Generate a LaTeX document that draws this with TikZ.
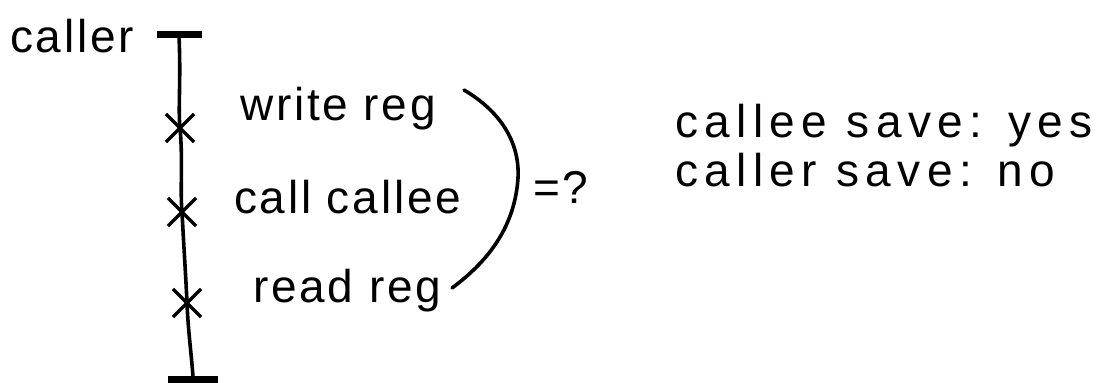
\documentclass[tikz,border=0pt]{standalone}
\usepackage{fontspec}
\setmainfont{Liberation Sans}[LetterSpace=6]
\usetikzlibrary{shapes.misc}
\begin{document}
\begin{tikzpicture}[x=1pt,y=-1pt,
  lbl/.style={font=\fontsize{46}{50}\selectfont, inner sep=0pt},
  wide/.style={font=\fontsize{46}{50}\selectfont\addfontfeature{LetterSpace=14}},
  ink/.style={line width=3.6pt, line cap=round, line join=round},
  xmark/.style={cross out, draw, line width=3.2pt, minimum size=25pt, inner sep=0pt},
  bar/.style={line width=7pt}]
\useasboundingbox (0,0) rectangle (1109,383);
\node[lbl, anchor=base west] (caller) at (10,52) {caller};
\coordinate (topL) at (157,34);
\coordinate (topR) at (202,34);
\coordinate (top) at (179,36);
\coordinate (botL) at (168,379);
\coordinate (botR) at (218,379);
\coordinate (bot) at (193,377);
\draw[bar] (topL) -- (topR);
\draw[bar] (botL) -- (botR);
\node[xmark] (x1) at (180,128) {};
\node[xmark] (x2) at (182,212) {};
\node[xmark] (x3) at (187,303) {};
\draw[ink] (top) .. controls (181,80) and (178,110) .. (x1.center)
  .. controls (183,160) and (180,190) .. (x2.center)
  .. controls (184,250) and (186,280) .. (x3.center)
  .. controls (188,330) and (192,360) .. (bot);
\node[lbl, anchor=base west] (write) at (240,120) {write reg};
\node[lbl, anchor=base west] (call) at (234,213) {call callee};
\node[lbl, anchor=base west] (read) at (253,302) {read reg};
\coordinate (br1) at (464,90);
\coordinate (br2) at (518,178);
\coordinate (br3) at (452,288);
\draw[ink] (br1) .. controls (498,110) and (520,140) .. (br2)
  .. controls (515,225) and (490,260) .. (br3);
\node[lbl, anchor=base west] (eq) at (533,203) {=?};
\node[lbl, wide, anchor=base west] (yes) at (675,137) {callee save: yes};
\node[lbl, wide, anchor=base west] (no) at (675,186) {caller save: no};
\end{tikzpicture}
\end{document}
